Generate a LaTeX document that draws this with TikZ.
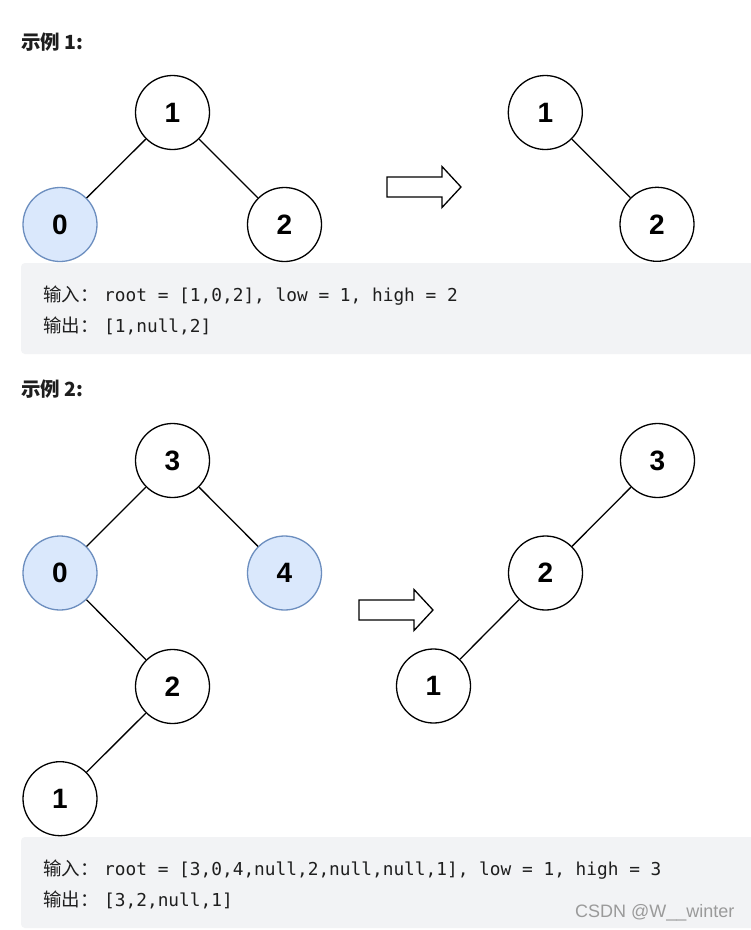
\documentclass[tikz,border=0pt]{standalone}
\usepackage{fontspec}
\newfontfamily\cjk{Noto Sans CJK SC}
\newfontfamily\numfont{Liberation Sans}
\newfontfamily\monofont{DejaVu Sans Mono}
\definecolor{boxgray}{HTML}{F2F3F5}
\definecolor{txt}{HTML}{1E1E1E}
\definecolor{bluefill}{HTML}{DAE8FC}
\definecolor{bluedraw}{HTML}{6C8EBF}
\definecolor{wm}{HTML}{9A9A9A}
\tikzset{
  tn/.style={circle,draw=black,line width=1.3pt,fill=white,minimum size=74pt,inner sep=0pt,
    font=\numfont\bfseries\fontsize{28}{28}\selectfont},
  hl/.style={tn,fill=bluefill,draw=bluedraw},
  edge/.style={line width=1.3pt,draw=black},
  codebox/.style={fill=boxgray,rounded corners=4pt},
  codetxt/.style={anchor=base west,inner sep=0pt,text=txt,font=\monofont\fontsize{17.8}{20}\selectfont},
  cjktxt/.style={anchor=base west,inner sep=0pt,text=txt,font=\cjk\fontsize{18.5}{20}\selectfont},
  title/.style={anchor=base west,inner sep=0pt,text=txt,font=\cjk\bfseries\fontsize{19.5}{22}\selectfont},
  fatarrow/.style={draw=black,line width=1.3pt,fill=white,line join=miter}
}
\begin{document}
\begin{tikzpicture}[x=1pt,y=-1pt]
\useasboundingbox (0,0) rectangle (751,930);
\fill[white] (0,0) rectangle (751,930);

% ---------- Example 1 ----------
\node[title] (t1) at (21,49) {示例 1:};

\node[tn] (a1) at (172.5,112.5) {1};
\node[hl] (a0) at (60,224.5) {0};
\node[tn] (a2) at (284.5,224.5) {2};
\draw[edge] (a1) -- (a0);
\draw[edge] (a1) -- (a2);

\draw[fatarrow] (387,177) -- (442,177) -- (442,166.5) -- (461,187) -- (442,207.5) -- (442,197) -- (387,197) -- cycle;

\node[tn] (b1) at (545.3,112.5) {1};
\node[tn] (b2) at (657,224.3) {2};
\draw[edge] (b1) -- (b2);

\path[codebox] (21,263) rectangle (760,354);
\node[cjktxt] (in1) at (43,301) {输入：};
\node[codetxt] (in1c) at (104,301) {root = [1,0,2], low = 1, high = 2};
\node[cjktxt] (out1) at (43,332) {输出：};
\node[codetxt] (out1c) at (104,332) {[1,null,2]};

% ---------- Example 2 ----------
\node[title] (t2) at (21,396) {示例 2:};

\node[tn] (c3) at (172.5,460.5) {3};
\node[hl] (c0) at (60,573) {0};
\node[hl] (c4) at (284.5,573) {4};
\node[tn] (c2) at (172.5,686.5) {2};
\node[tn] (c1) at (60,798.7) {1};
\draw[edge] (c3) -- (c0);
\draw[edge] (c3) -- (c4);
\draw[edge] (c0) -- (c2);
\draw[edge] (c2) -- (c1);

\draw[fatarrow] (359,600) -- (414,600) -- (414,589.5) -- (433,610) -- (414,630.5) -- (414,620) -- (359,620) -- cycle;

\node[tn] (d3) at (657.5,460.5) {3};
\node[tn] (d2) at (545.5,573) {2};
\node[tn] (d1) at (433.5,686) {1};
\draw[edge] (d3) -- (d2);
\draw[edge] (d2) -- (d1);

\path[codebox] (21,837) rectangle (760,928);
\node[cjktxt] (in2) at (43,875) {输入：};
\node[codetxt] (in2c) at (104,875) {root = [3,0,4,null,2,null,null,1], low = 1, high = 3};
\node[cjktxt] (out2) at (43,906) {输出：};
\node[codetxt] (out2c) at (104,906) {[3,2,null,1]};

\node[anchor=base west,inner sep=0pt,text=wm,font=\numfont\fontsize{18}{20}\selectfont] (wmk) at (575,917) {CSDN @W\_\_winter};
\end{tikzpicture}
\end{document}
